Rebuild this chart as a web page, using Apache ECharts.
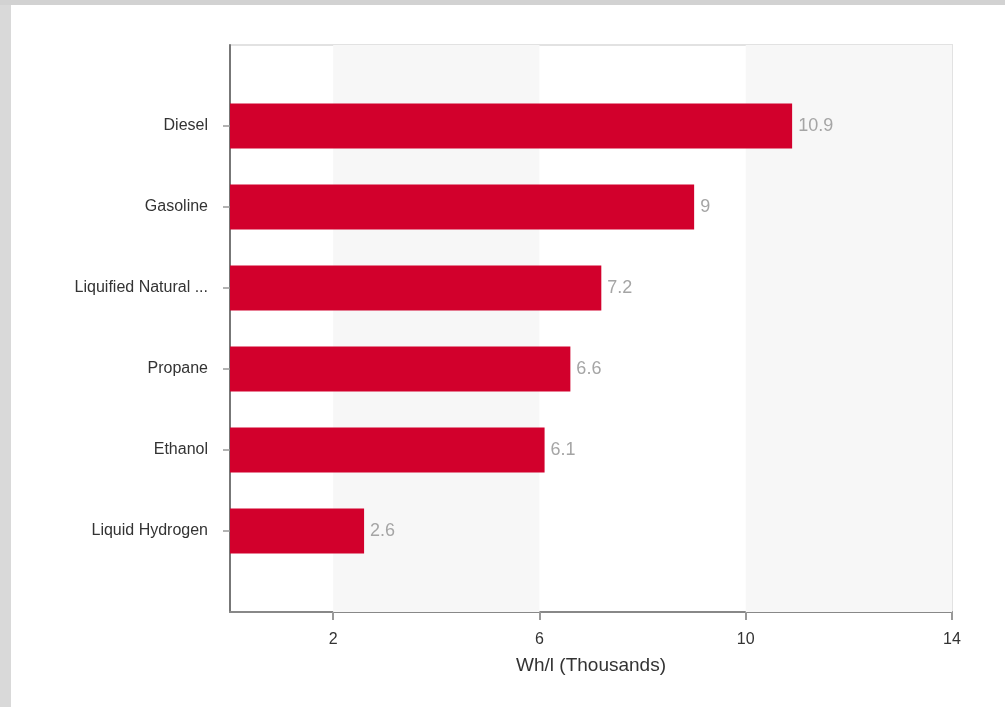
<!DOCTYPE html>
<html>
<head>
<meta charset="utf-8">
<script src="https://cdn.jsdelivr.net/npm/echarts@6/dist/echarts.min.js"></script>
<style>
html,body{margin:0;padding:0;background:#fff;}
#c{width:1005px;height:707px;}
</style>
</head>
<body>
<div id="c"></div>
<script>
// Categories listed bottom to top (blank entries pad the ends of the axis)
const categories = ['', 'Liquid Hydrogen', 'Ethanol', 'Propane', 'Liquified Natural Gas', 'Gasoline', 'Diesel', ''];
const values = [null, 2.6, 6.1, 6.6, 7.2, 9, 10.9, null];
const xTicks = [2, 6, 10, 14];
const bands = [[2, 6], [10, 14]];
const xName = 'Wh/l (Thousands)';

const chart = echarts.init(document.getElementById('c'), null, {renderer: 'canvas'});
const font = 'Liberation Sans, Arial, sans-serif';
chart.setOption({
  animation: false,
  backgroundColor: '#fff',
  graphic: [
    {type: 'rect', left: 0, top: 0, shape: {width: 11, height: 707}, style: {fill: '#d9d9d9'}, z: 100},
    {type: 'rect', left: 0, top: 0, shape: {width: 1005, height: 5}, style: {fill: '#d2d2d2'}, z: 100}
  ],
  grid: {left: 230, right: 53, top: 45, bottom: 95, show: true, borderColor: '#e2e2e2', borderWidth: 2, backgroundColor: 'transparent'},
  xAxis: {
    type: 'value', min: 0, max: 14,
    name: xName, nameLocation: 'middle', nameGap: 44,
    nameTextStyle: {fontFamily: font, fontSize: 19, color: '#333'},
    axisLine: {show: true, lineStyle: {color: '#888', width: 2}},
    axisTick: {show: true, customValues: xTicks, length: 8, lineStyle: {color: '#999', width: 2}},
    axisLabel: {customValues: xTicks, margin: 20, fontFamily: font, fontSize: 16, color: '#333'},
    splitLine: {show: false}
  },
  yAxis: {
    type: 'category', data: categories, boundaryGap: false,
    axisLine: {show: true, lineStyle: {color: '#777', width: 2}},
    axisTick: {show: true, length: 7, interval: (i, v) => v !== '', lineStyle: {color: '#999', width: 1.5}},
    axisLabel: {margin: 22, fontFamily: font, fontSize: 16, color: '#333', width: 145, overflow: 'truncate', ellipsis: '...',
      interval: 0},
    splitLine: {show: false}
  },
  series: [{
    type: 'bar', data: values, barWidth: 45,
    itemStyle: {color: '#d2002c'},
    label: {show: true, position: 'right', distance: 6, fontFamily: font, fontSize: 18, color: '#a5a5a5'},
    markArea: {silent: true, itemStyle: {color: '#f7f7f7'}, data: bands.map(b => [{xAxis: b[0]}, {xAxis: b[1]}])}
  }]
});
</script>
</body>
</html>
